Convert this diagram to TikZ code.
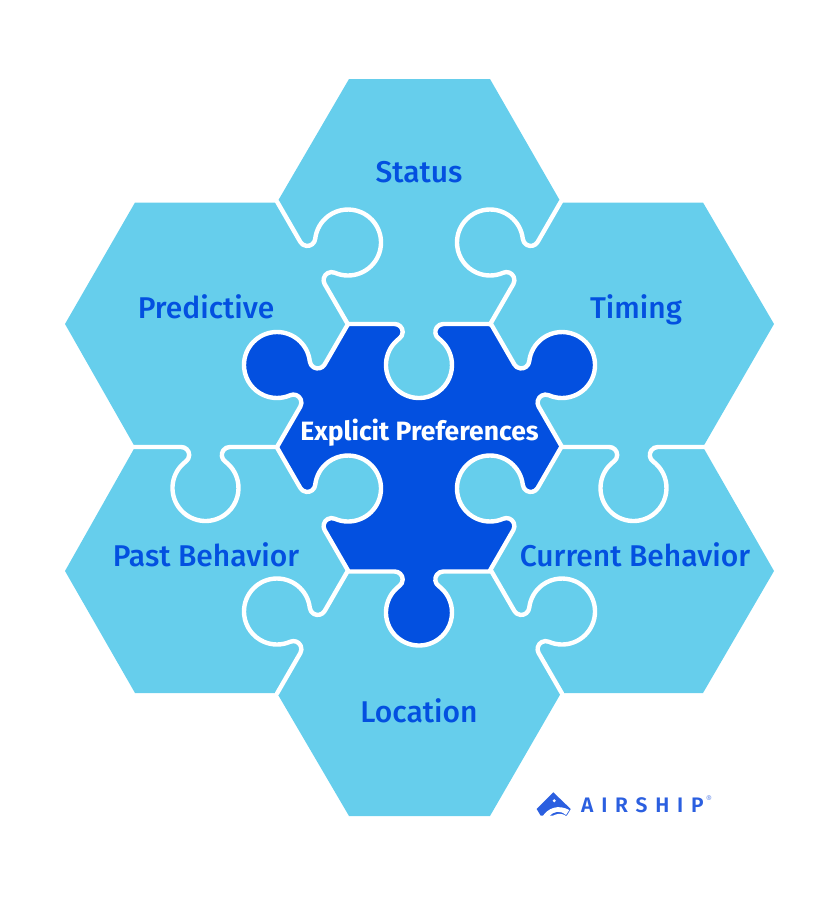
\documentclass[tikz,border=0pt]{standalone}
\usepackage{fontspec}
\setmainfont{Fira Sans}[UprightFont=* Medium,BoldFont=* Bold]
\newfontfamily\logofont{Fira Sans}[UprightFont=* SemiBold,LetterSpace=37]
\usepackage{tikz}

\definecolor{skyblue}{HTML}{66CEEC}
\definecolor{deepblue}{HTML}{0350E0}
\definecolor{logoblue}{HTML}{2B5FE0}

\tikzset{
	tile/.style = {fill=skyblue},
	seam/.style = {draw=white, line width=4.4pt, line join=round, line cap=round},
	label/.style = {text=deepblue, font=\fontsize{30}{32}\selectfont, inner sep=0pt, anchor=base},
}

% one side of a hexagon with its round tab
\newcommand{\tab}[4]{
	\begin{scope}[shift={(#1,#2)}, rotate=#3, x=1pt, y=1pt]
		\fill[#4] (-24.33,3) -- (-24.33,0) arc (90:-53.6:8) arc (126.4:413.6:33) arc (233.6:90:8) -- (24.33,3) -- cycle;
		\draw[seam] (-71,0) -- (-24.33,0) arc (90:-53.6:8) arc (126.4:413.6:33) arc (233.6:90:8) -- (71,0);
	\end{scope}
}

\begin{document}
\begin{tikzpicture}[x=1pt, y=-1pt]
	\useasboundingbox (0,0) rectangle (831,902);

	% the seven hexagons
	\fill[tile] (349,79) -- (490,79) -- (561,202.5) -- (490,324) -- (348,324) -- (277,202.5) -- cycle;
	\fill[tile] (561,202.5) -- (703,202.5) -- (774,324) -- (703,447) -- (561,447) -- (490,324) -- cycle;
	\fill[tile] (561,447) -- (703,447) -- (774,571) -- (703,693) -- (561,693) -- (490,571) -- cycle;
	\fill[tile] (348,571) -- (490,571) -- (561,693) -- (490,816) -- (349,816) -- (277,693) -- cycle;
	\fill[tile] (135,447) -- (277,447) -- (348,571) -- (277,693) -- (135,693) -- (65,571) -- cycle;
	\fill[tile] (135,202.5) -- (277,202.5) -- (348,324) -- (277,447) -- (135,447) -- (65,324) -- cycle;
	\fill[deepblue] (348,324) -- (490,324) -- (561,447) -- (490,571) -- (348,571) -- (277,447) -- cycle;

	% tabs, outer ring first
	\foreach \tx/\ty/\tr in {312.5/263/120, 525.5/263/240, 205.5/447/0, 633.5/447/0, 312.5/632/240, 526.5/632/120} {
		\tab{\tx}{\ty}{\tr}{skyblue}
	}
	\tab{419}{324}{0}{skyblue}
	\tab{312.5}{385.5}{240}{deepblue}
	\tab{526.5}{385.5}{120}{deepblue}
	\tab{525.5}{509}{240}{skyblue}
	\tab{312.5}{509}{120}{skyblue}
	\tab{419}{571.5}{0}{deepblue}

	\node[label](status) at (419,182.5) {Status};
	\node[label](predictive) at (206,318) {Predictive};
	\node[label](timing) at (636,318) {Timing};
	\node[label](past) at (206,566) {Past Behavior};
	\node[label](current) at (635,566) {Current Behavior};
	\node[label](location) at (419,722) {Location};
	\node[label, text=white, font=\bfseries\fontsize{26.5}{30}\selectfont](explicit) at (419.5,440) {Explicit Preferences};

	% logo
	\fill[logoblue] (536.7,809) -- (553.3,792.3) -- (570.7,809) -- (566.7,815.7) -- (540.7,815.7) -- cycle;
	\fill[white] (554.3,800.7) circle (1.6);
	\fill[white] (542.5,816.5) .. controls (548,808) and (558,804) .. (569.3,810) -- (566,815) .. controls (560,810) and (554,811) .. (549,816.5) -- cycle;
	\fill[white] (552,816.5) .. controls (556,813.5) and (560,813) .. (564.8,815) -- (564.8,816.5) -- cycle;
	\node[text=logoblue, font=\logofont\fontsize{21}{22}\selectfont, anchor=base west, inner sep=0pt](airship) at (581,812.5) {AIRSHIP};
	\node[text=logoblue!60!white, font=\fontsize{9}{9}\selectfont, anchor=base west, inner sep=0pt](reg) at (706,802.5) {®};
\end{tikzpicture}
\end{document}
